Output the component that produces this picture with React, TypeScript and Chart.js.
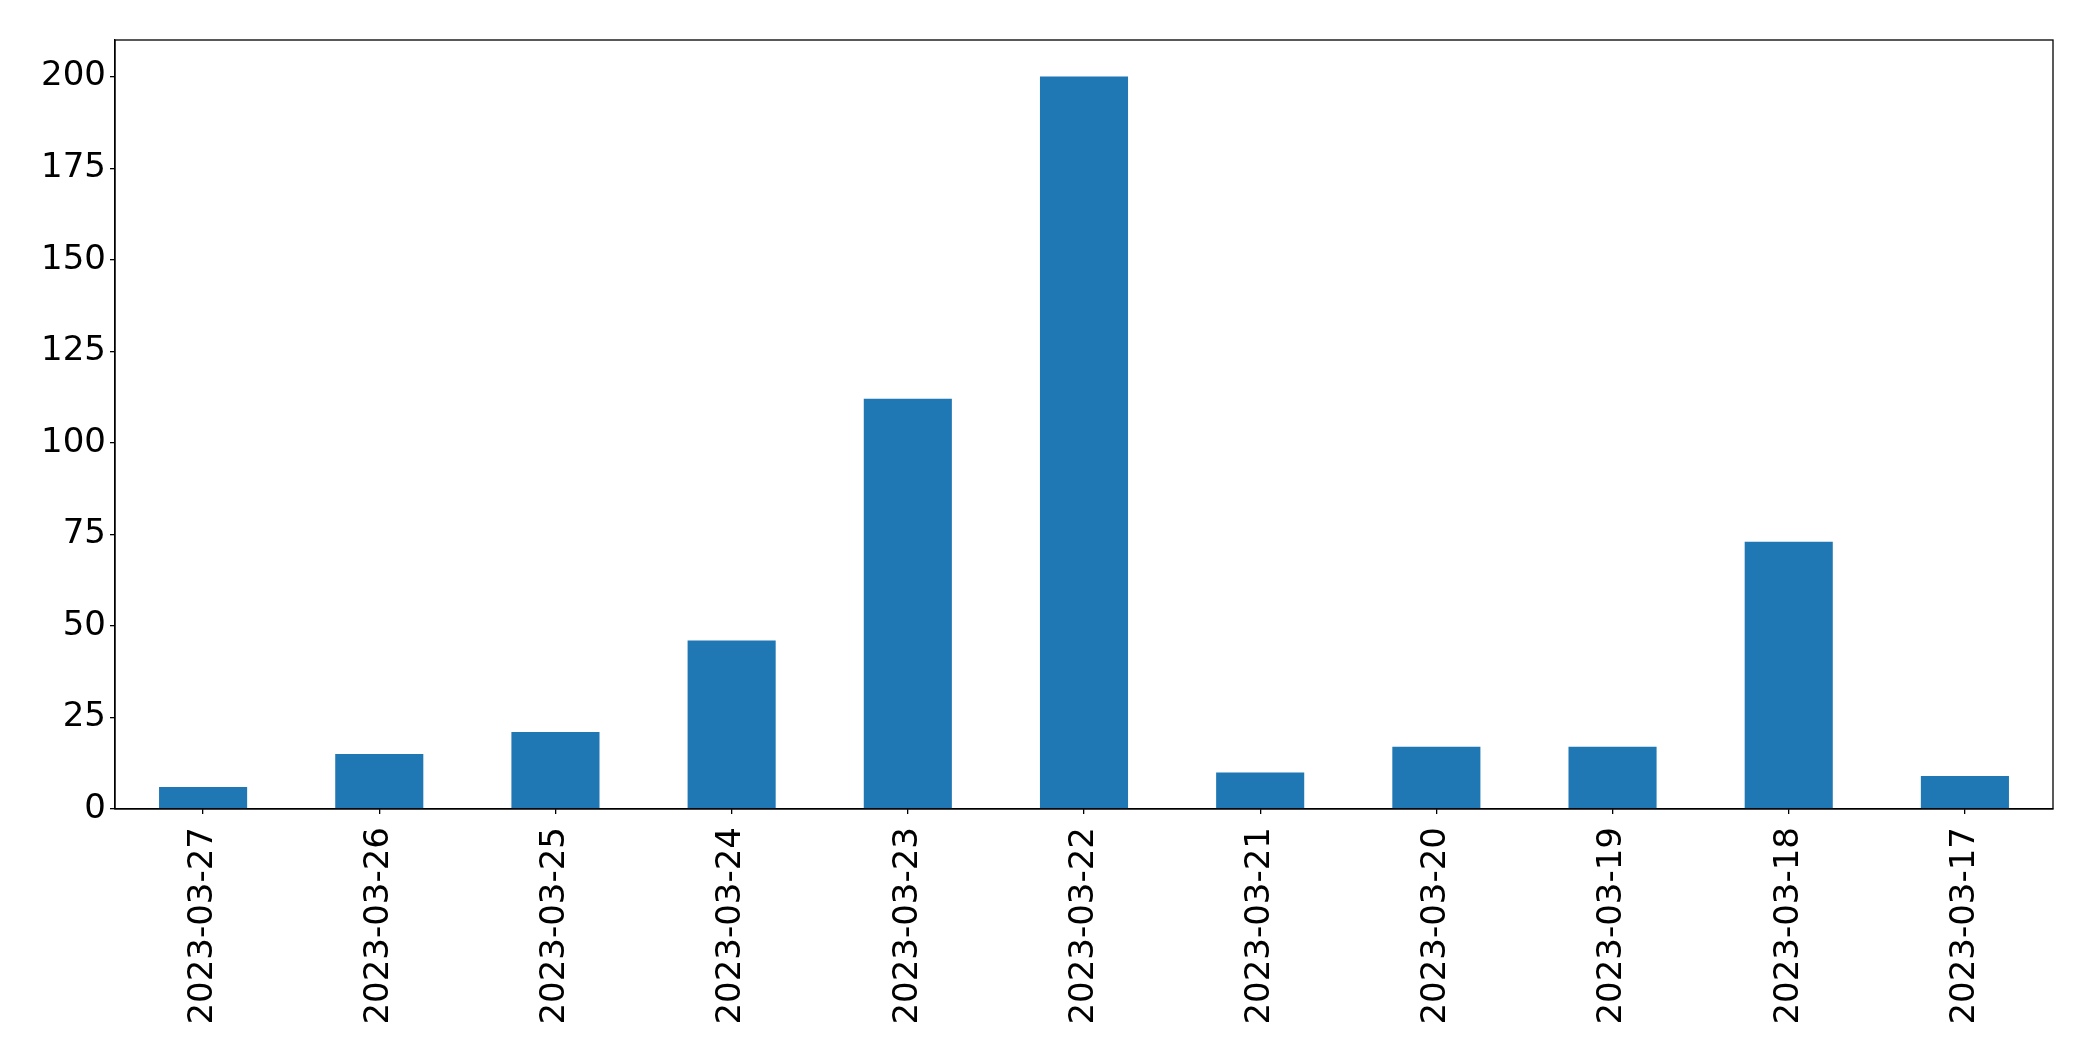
import React, { useEffect, useRef } from "react";
import { Chart, registerables } from "chart.js";

Chart.register(...registerables);

const categories = [
  "2023-03-27", "2023-03-26", "2023-03-25", "2023-03-24", "2023-03-23", "2023-03-22",
  "2023-03-21", "2023-03-20", "2023-03-19", "2023-03-18", "2023-03-17",
];
const counts = [6, 15, 21, 46, 112, 200, 10, 17, 17, 73, 9];
const yTicks = [0, 25, 50, 75, 100, 125, 150, 175, 200];

const W = 2093;
const H = 1061;
const PLOT_LEFT = 115;
const PLOT_RIGHT = 2053;
const PLOT_TOP = 40;
const PLOT_BOTTOM = 809;

const framePlugin = {
  id: "frame",
  afterDraw(chart: any) {
    const { ctx, chartArea } = chart;
    ctx.save();
    ctx.strokeStyle = "#000";
    ctx.lineWidth = 1.3;
    ctx.strokeRect(chartArea.left, chartArea.top, chartArea.right - chartArea.left, chartArea.bottom - chartArea.top);
    ctx.restore();
  },
};

export default function App() {
  const ref = useRef<HTMLCanvasElement | null>(null);
  useEffect(() => {
    document.body.style.margin = "0";
    const font = { family: "'DejaVu Sans'", size: 34 };
    const chart = new Chart(ref.current as HTMLCanvasElement, {
      type: "bar",
      data: {
        labels: categories,
        datasets: [
          {
            data: counts,
            backgroundColor: "#1f77b4",
            borderWidth: 0,
            barPercentage: 0.5,
            categoryPercentage: 1,
          },
        ],
      },
      options: {
        animation: false,
        responsive: false,
        maintainAspectRatio: false,
        devicePixelRatio: 1,
        layout: { padding: { left: 0, top: PLOT_TOP, right: W - PLOT_RIGHT, bottom: 0 } },
        plugins: { legend: { display: false }, tooltip: { enabled: false } },
        scales: {
          x: {
            type: "category",
            offset: true,
            grid: { display: true, offset: false, drawOnChartArea: false, drawTicks: true, tickLength: 5, color: "#000", lineWidth: 1.3 },
            border: { display: true, color: "#000", width: 1.3 },
            ticks: { color: "#000", font, minRotation: 90, maxRotation: 90, autoSkip: false, padding: 13 },
            afterFit: (s: any) => { s.height = H - PLOT_BOTTOM; },
          },
          y: {
            min: 0,
            max: 210,
            afterBuildTicks: (s: any) => { s.ticks = yTicks.map((v) => ({ value: v })); },
            grid: { display: true, drawOnChartArea: false, drawTicks: true, tickLength: 5, color: "#000", lineWidth: 1.3 },
            border: { display: true, color: "#000", width: 1.3 },
            ticks: { color: "#000", font, padding: 4 },
            afterFit: (s: any) => { s.width = PLOT_LEFT; },
          },
        },
      },
      plugins: [framePlugin],
    });
    return () => chart.destroy();
  }, []);
  return (
    <div style={{ width: W, height: H, background: "#fff" }}>
      <canvas ref={ref} width={W} height={H} style={{ width: W, height: H, display: "block" }} />
    </div>
  );
}
